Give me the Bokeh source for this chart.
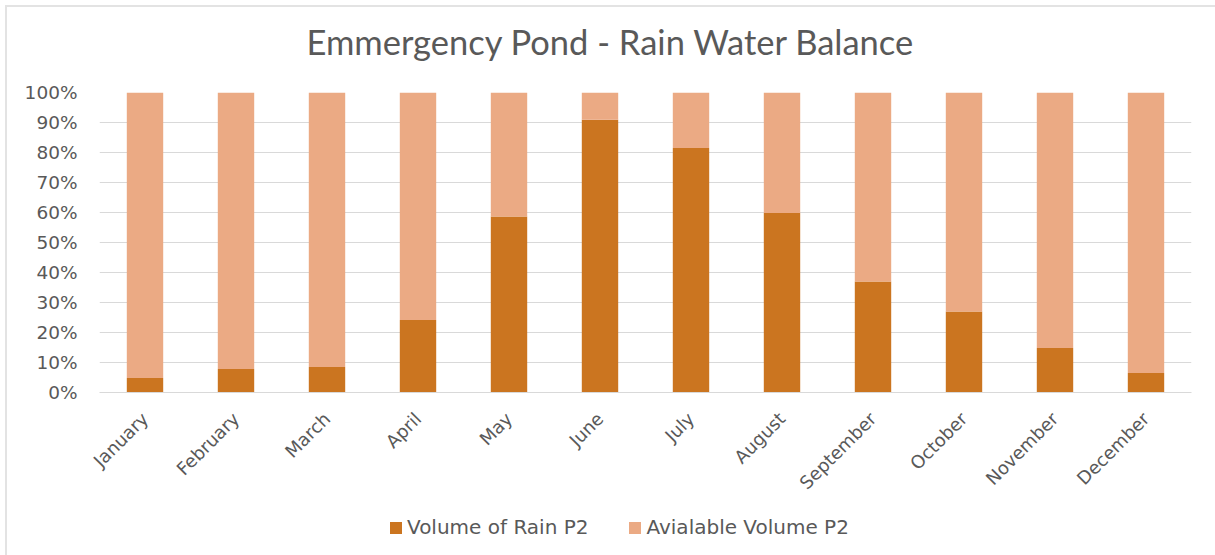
from bokeh.plotting import figure
from bokeh.models import (FactorRange, NumeralTickFormatter, FixedTicker, Legend,
                          LegendItem, Title, ColumnDataSource, Range1d)
from bokeh.layouts import column
from bokeh.embed import file_html
from bokeh.resources import INLINE
import math

months = ["January", "February", "March", "April", "May", "June", "July",
          "August", "September", "October", "November", "December"]
rain = [0.048, 0.078, 0.085, 0.242, 0.587, 0.909, 0.815, 0.598, 0.370, 0.270, 0.148, 0.065]
available = [1 - r for r in rain]
series_names = ["Volume of Rain P2", "Avialable Volume P2"]
colors = ["#CB7520", "#EBAA84"]
title_text = "Emmergency Pond - Rain Water Balance"

FONT = "Lato"
TFONT = "DejaVu Sans"
GRAY = "#595959"

src = ColumnDataSource(dict(month=months, rain=rain, available=available))

p = figure(frame_width=1092, frame_height=300,
           x_range=FactorRange(*months, range_padding=0),
           y_range=(0, 1), output_backend="svg", toolbar_location=None,
           title_location=None, min_border_left=92, min_border_right=24,
           min_border_top=85, min_border_bottom=112)

r = p.vbar_stack(["rain", "available"], x="month", width=0.4, source=src,
                 color=colors, line_color=None)

p.add_layout(Title(text=" ", text_font_size="12px"), "above")
p.add_layout(Title(text=title_text, align="left", offset=207, text_font=FONT,
                   text_font_size="34.5px", text_font_style="normal",
                   text_color=GRAY), "above")

p.yaxis.ticker = FixedTicker(ticks=[i / 10 for i in range(11)])
p.yaxis.formatter = NumeralTickFormatter(format="0%")
p.yaxis.axis_line_color = None
p.yaxis.major_tick_line_color = None
p.yaxis.minor_tick_line_color = None
p.yaxis.major_label_text_font = TFONT
p.yaxis.major_label_text_font_size = "18.5px"
p.yaxis.major_label_text_color = GRAY
p.yaxis.major_label_standoff = 16

p.xaxis.axis_line_color = "#d9d9d9"
p.xaxis.major_tick_line_color = None
p.xaxis.minor_tick_line_color = None
p.xaxis.major_label_orientation = math.pi / 4
p.xaxis.major_label_text_font = TFONT
p.xaxis.major_label_text_font_size = "18px"
p.xaxis.major_label_text_color = GRAY
p.xaxis.major_label_standoff = 17

p.xgrid.grid_line_color = None
p.ygrid.grid_line_color = "#d9d9d9"
p.ygrid.ticker = FixedTicker(ticks=[i / 10 for i in range(11)])
p.outline_line_color = None

# legend strip (swatch renderers sit outside the visible range)
lf = figure(width=1208, height=51, output_backend="svg", toolbar_location=None,
            x_range=Range1d(0, 1), y_range=Range1d(0, 1),
            x_axis_location=None, y_axis_location=None, title_location=None,
            min_border=0, min_border_left=0, min_border_right=0,
            min_border_top=0, min_border_bottom=0)
lf.grid.visible = False
lf.outline_line_color = None
swatch = ColumnDataSource(dict(x=[-10.0], top=[-10.0]))
lr = [lf.vbar(x="x", top="top", width=0.1, source=swatch, color=c, line_color=None)
      for c in colors]
legend = Legend(items=[LegendItem(label=series_names[i], renderers=[lr[i]]) for i in range(2)],
                orientation="horizontal", location=(289, 16),
                label_text_font=TFONT, label_text_font_size="20px",
                label_text_color=GRAY, glyph_width=15, glyph_height=15,
                spacing=39, border_line_color=None, background_fill_alpha=0,
                margin=0, padding=0, label_standoff=4)
lf.add_layout(legend, "center")

layout = column(p, lf, spacing=0)
layout.styles = {"border-left": "2px solid #e3e3e3", "border-top": "2px solid #e3e3e3",
                 "margin-left": "5px", "margin-top": "5px"}

open("out.html", "w").write(file_html(layout, INLINE))
